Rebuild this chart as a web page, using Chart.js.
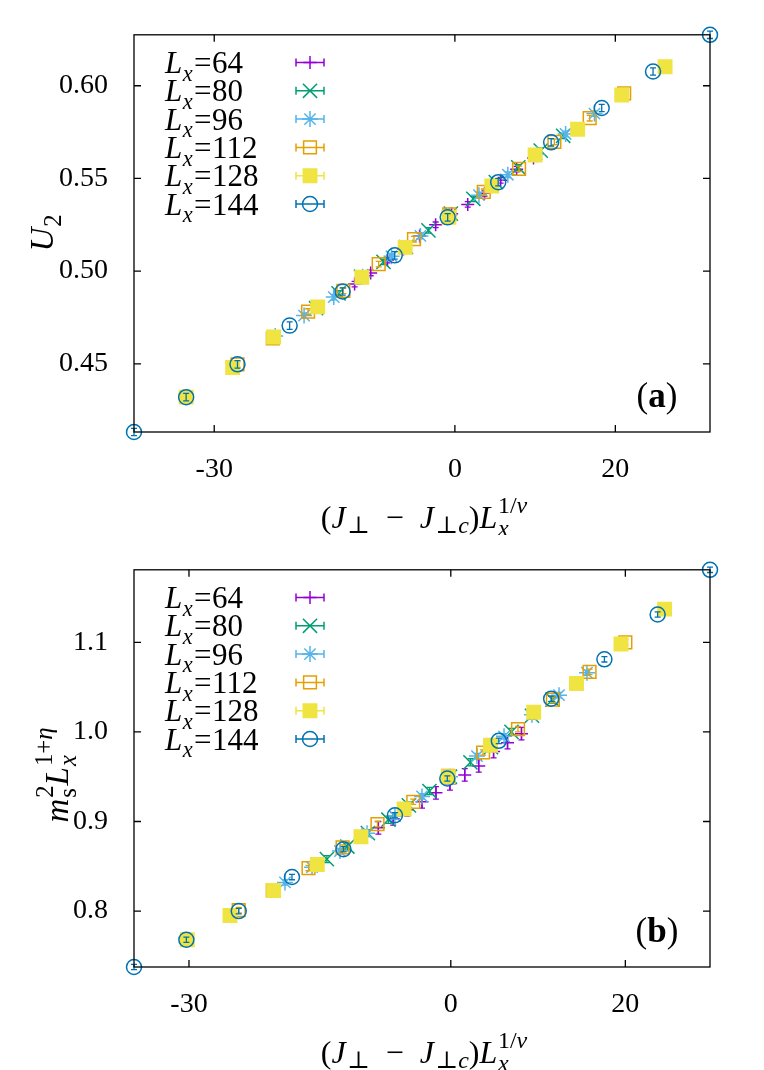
<!DOCTYPE html>
<html>
<head>
<meta charset="utf-8">
<script src="https://cdn.jsdelivr.net/npm/chart.js@4.4.1/dist/chart.umd.min.js"></script>
<style>
  html, body { margin: 0; padding: 0; background: #fff; }
  #wrap { position: relative; width: 764px; height: 1070px; }
  canvas { position: absolute; left: 0; }
</style>
</head>
<body>
<div id="wrap">
  <canvas id="chartU2" width="764" height="535" style="top:0"></canvas>
  <canvas id="chartM2" width="764" height="535" style="top:535px"></canvas>
</div>
<script>
// series (system sizes)
const seriesLabels = ['64', '80', '96', '112', '128', '144'];
const seriesColors = ['#9400d3', '#009e73', '#56b4e9', '#e69f00', '#f0e442', '#0072b2'];
const seriesMarkers = ['cross', 'crossRot', 'star', 'rect', 'rect', 'circle'];
const markerRadius = [6.5, 10, 8, 9, 9.5, 7.5];

// panel (a): U2
const x64U = [-12.5, -10.5, -8.4, -6.4, -4.4, -2.4, -0.4, 1.6, 3.7, 5.7, 7.7, 9.8];
const y64U = [0.493, 0.499, 0.506, 0.512, 0.519, 0.525, 0.531, 0.536, 0.542, 0.549, 0.555, 0.561];
const x80U = [-17.3, -14.5, -11.7, -8.9, -6.1, -3.3, -0.5, 2.3, 5.1, 7.9, 10.7, 13.5];
const y80U = [0.480, 0.488, 0.497, 0.505, 0.513, 0.522, 0.531, 0.539, 0.548, 0.556, 0.565, 0.573];
const x96U = [-22.4, -18.8, -15.1, -11.5, -7.9, -4.3, -0.7, 3.0, 6.6, 10.2, 13.8, 17.4];
const y96U = [0.465, 0.476, 0.486, 0.497, 0.508, 0.519, 0.530, 0.541, 0.552, 0.563, 0.574, 0.585];
const x112U = [-27.1, -22.7, -18.3, -13.9, -9.5, -5.1, -0.7, 3.6, 8.0, 12.4, 16.8, 21.1];
const y112U = [0.4497, 0.4637, 0.4782, 0.4894, 0.5038, 0.5172, 0.5306, 0.5428, 0.5552, 0.5697, 0.5825, 0.5959];
const x128U = [-33.5, -27.7, -22.6, -17.1, -11.6, -6.2, -0.75, 4.6, 10.0, 15.3, 20.8, 26.2];
const y128U = [0.432, 0.448, 0.4645, 0.4807, 0.4967, 0.5128, 0.529, 0.5459, 0.5626, 0.5765, 0.595, 0.6103];
const x144U = [-40.0, -33.5, -27.1, -20.6, -14.0, -7.5, -0.9, 5.4, 12.0, 18.3, 24.7, 31.8];
const y144U = [0.4132, 0.432, 0.4497, 0.4706, 0.489, 0.5085, 0.529, 0.548, 0.5695, 0.588, 0.6077, 0.6275];
const errU = [0.0015, 0.0015, 0.0015, 0.0015, 0.0015, 0.002];

// panel (b): m_s^2 L^(1+eta)
const x64M = [-9.9, -8.3, -6.6, -5.0, -3.3, -1.7, -0.1, 1.6, 3.2, 4.9, 6.5, 8.1];
const y64M = [0.884, 0.893, 0.903, 0.913, 0.922, 0.932, 0.942, 0.952, 0.962, 0.978, 0.988, 0.998];
const x80M = [-14.2, -11.85, -9.5, -7.15, -4.8, -2.45, -0.1, 2.25, 4.6, 6.95, 9.3, 11.65];
const y80M = [0.858, 0.872, 0.887, 0.902, 0.918, 0.934, 0.950, 0.966, 0.983, 1.000, 1.018, 1.036];
const x96M = [-19.0, -15.9, -12.7, -9.6, -6.4, -3.3, -0.1, 3.0, 6.1, 9.3, 12.4, 15.6];
const y96M = [0.832, 0.849, 0.867, 0.887, 0.906, 0.928, 0.950, 0.973, 0.995, 1.019, 1.041, 1.066];
const x112M = [-24.3, -20.4, -16.3, -12.4, -8.4, -4.3, -0.3, 3.7, 7.7, 11.7, 15.9, 20.0];
const y112M = [0.801, 0.823, 0.848, 0.871, 0.897, 0.922, 0.951, 0.977, 1.003, 1.036, 1.067, 1.100];
const x128M = [-30.2, -25.3, -20.3, -15.3, -10.3, -5.35, -0.3, 4.55, 9.5, 14.4, 19.5, 24.5];
const y128M = [0.768, 0.795, 0.823, 0.852, 0.883, 0.914, 0.950, 0.985, 1.022, 1.054, 1.098, 1.137];
const x144M = [-36.3, -30.3, -24.3, -18.2, -12.3, -6.4, -0.4, 5.5, 11.5, 17.6, 23.7, 29.7];
const y144M = [0.7376, 0.768, 0.800, 0.838, 0.869, 0.907, 0.948, 0.990, 1.037, 1.081, 1.131, 1.1809];
const errM = [0.007, 0.004, 0.003, 0.003, 0.003, 0.003];

// axes
const xTicks = [-30, 0, 20];
const xRangeU = [-40.0, 31.8];
const xRangeM = [-36.3, 29.7];
const yTicksU = [0.45, 0.50, 0.55, 0.60];
const yTickLabelsU = ['0.45', '0.50', '0.55', '0.60'];
const yRangeU = [0.4132, 0.6275];
const yTicksM = [0.8, 0.9, 1.0, 1.1];
const yTickLabelsM = ['0.8', '0.9', '1.0', '1.1'];
const yRangeM = [0.7376, 1.1809];

const FONT = '"Liberation Serif", "DejaVu Serif", serif';

// draw a row of text runs (italic, sub/superscripts)
function drawRuns(ctx, runs, x0, y0, size, align) {
  let x = 0, prevStart = 0;
  const items = [];
  runs.forEach(r => {
    const fs = size * (r.s || 1);
    const font = `${r.it ? 'italic ' : ''}${r.b ? 'bold ' : ''}${fs}px ${FONT}`;
    ctx.font = font;
    const w = ctx.measureText(r.t).width;
    const start = r.back ? prevStart : x;
    items.push({ t: r.t, font, x: start + (r.kern || 0) * size, dy: (r.dy || 0) * size });
    x = r.back ? Math.max(x, start + w) : start + w;
    x += (r.pad || 0) * size;
    prevStart = start;
  });
  const off = align === 'center' ? -x / 2 : (align === 'right' ? -x : 0);
  ctx.textAlign = 'left';
  ctx.textBaseline = 'alphabetic';
  items.forEach(it => {
    ctx.font = it.font;
    ctx.fillText(it.t, x0 + off + it.x, y0 - it.dy);
  });
}

const xTitleRuns = [
  { t: '(' }, { t: 'J', it: true, pad: 0.05 }, { t: '⊥', s: 0.75, dy: -0.15 },
  { t: '  −  ' }, { t: 'J', it: true, pad: 0.05 }, { t: '⊥', s: 0.75, dy: -0.15 }, { t: 'c', it: true, s: 0.75, dy: -0.15 },
  { t: ')' }, { t: 'L', it: true, pad: 0.02 }, { t: 'x', it: true, s: 0.75, dy: -0.25 },
  { t: '1/', s: 0.75, dy: 0.48, back: true }, { t: 'ν', it: true, s: 0.75, dy: 0.48 }
];
const yTitleRunsU = [{ t: 'U', it: true, pad: 0.03 }, { t: '2', s: 0.75, dy: -0.25 }];
const yTitleRunsM = [
  { t: 'm', it: true, pad: 0.03 }, { t: 's', s: 0.75, dy: -0.25 }, { t: '2', s: 0.75, dy: 0.45, back: true },
  { t: 'L', it: true, pad: 0.03 }, { t: 'x', it: true, s: 0.75, dy: -0.25 },
  { t: '1+', s: 0.75, dy: 0.48, back: true }, { t: 'η', it: true, s: 0.75, dy: 0.48 }
];

function buildDatasets(xs, ys) {
  return seriesLabels.map((lab, i) => ({
    label: 'Lx=' + lab,
    data: xs[i].map((x, k) => ({ x: x, y: ys[i][k] })),
    pointStyle: seriesMarkers[i],
    pointRadius: markerRadius[i],
    borderColor: seriesColors[i],
    backgroundColor: i === 4 ? seriesColors[i] : 'rgba(0,0,0,0)',
    pointBorderWidth: 1.5,
    showLine: false,
    clip: false,
    order: seriesLabels.length - i
  }));
}

function makePanel(canvasId, xs, ys, errs, xRange, yTicks, yTickLabels, yRange, yTitle, yTitleX, yTitleY, panelTag) {
  const panelPlugin = {
    id: 'panel',
    afterDatasetDraw(chart, args) {
      const ctx = chart.ctx;
      const ys = chart.scales.y;
      const err = errs[args.index];
      ctx.save();
      ctx.strokeStyle = seriesColors[args.index];
      ctx.lineWidth = 1.3;
      args.meta.data.forEach((pt, k) => {
        const v = chart.data.datasets[args.index].data[k].y;
        const y1 = ys.getPixelForValue(v - err);
        const y2 = ys.getPixelForValue(v + err);
        ctx.beginPath();
        ctx.moveTo(pt.x, y1); ctx.lineTo(pt.x, y2);
        ctx.moveTo(pt.x - 3, y1); ctx.lineTo(pt.x + 3, y1);
        ctx.moveTo(pt.x - 3, y2); ctx.lineTo(pt.x + 3, y2);
        ctx.stroke();
      });
      ctx.restore();
    },
    afterDraw(chart) {
      const ctx = chart.ctx;
      const a = chart.chartArea;
      const sx = chart.scales.x, sy = chart.scales.y;
      ctx.save();
      // frame + inward ticks
      ctx.strokeStyle = '#000';
      ctx.lineWidth = 1.3;
      ctx.strokeRect(a.left, a.top, a.right - a.left, a.bottom - a.top);
      ctx.beginPath();
      xTicks.forEach(v => {
        const px = sx.getPixelForValue(v);
        ctx.moveTo(px, a.bottom); ctx.lineTo(px, a.bottom - 7);
        ctx.moveTo(px, a.top); ctx.lineTo(px, a.top + 7);
      });
      yTicks.forEach(v => {
        const py = sy.getPixelForValue(v);
        ctx.moveTo(a.left, py); ctx.lineTo(a.left + 7, py);
        ctx.moveTo(a.right, py); ctx.lineTo(a.right - 7, py);
      });
      ctx.stroke();

      // legend
      seriesLabels.forEach((lab, i) => {
        const cy = 62.5 + i * 28.3;
        ctx.fillStyle = '#000';
        drawRuns(ctx, [{ t: 'L', it: true, pad: 0.02 }, { t: 'x', it: true, s: 0.72, dy: -0.25, pad: 0.04 }, { t: '=', pad: 0.02 }, { t: lab }], 165, cy + 10.5, 31, 'left');
        ctx.strokeStyle = seriesColors[i];
        ctx.lineWidth = 1.5;
        ctx.beginPath();
        ctx.moveTo(296, cy); ctx.lineTo(324, cy);
        ctx.moveTo(296, cy - 4); ctx.lineTo(296, cy + 4);
        ctx.moveTo(324, cy - 4); ctx.lineTo(324, cy + 4);
        ctx.stroke();
        ctx.fillStyle = i === 4 ? seriesColors[i] : 'rgba(0,0,0,0)';
        Chart.helpers.drawPoint(ctx, { pointStyle: seriesMarkers[i], radius: markerRadius[i], borderWidth: 1.5, rotation: 0 }, 310, cy);
      });

      // titles
      ctx.fillStyle = '#000';
      drawRuns(ctx, xTitleRuns, 424, 528, 32, 'center');
      ctx.save();
      ctx.translate(yTitleX, yTitleY);
      ctx.rotate(-Math.PI / 2);
      drawRuns(ctx, yTitle, 0, 0, 33, 'center');
      ctx.restore();
      drawRuns(ctx, [{ t: '(' }, { t: panelTag, b: true }, { t: ')' }], 657, 407, 35, 'center');
      ctx.restore();
    }
  };

  return new Chart(document.getElementById(canvasId), {
    type: 'scatter',
    data: { datasets: buildDatasets(xs, ys) },
    options: {
      responsive: false,
      animation: false,
      events: [],
      devicePixelRatio: 1,
      layout: { padding: { top: 32, right: 54, left: 0, bottom: 0 } },
      plugins: { legend: { display: false }, tooltip: { enabled: false } },
      scales: {
        x: {
          type: 'linear',
          min: xRange[0],
          max: xRange[1],
          grid: { display: false },
          border: { display: false },
          afterBuildTicks: s => { s.ticks = xTicks.map(v => ({ value: v })); },
          afterFit: s => { s.height = 103; },
          ticks: {
            padding: 13,
            maxRotation: 0,
            color: '#000',
            font: { family: FONT, size: 28 },
            callback: v => String(v)
          }
        },
        y: {
          type: 'linear',
          min: yRange[0],
          max: yRange[1],
          grid: { display: false },
          border: { display: false },
          afterBuildTicks: s => { s.ticks = yTicks.map(v => ({ value: v })); },
          afterFit: s => { s.width = 134; },
          ticks: {
            padding: 18,
            color: '#000',
            font: { family: FONT, size: 28 },
            callback: (v, idx) => yTickLabels[idx]
          }
        }
      }
    },
    plugins: [panelPlugin]
  });
}

makePanel('chartU2',
  [x64U, x80U, x96U, x112U, x128U, x144U],
  [y64U, y80U, y96U, y112U, y128U, y144U],
  errU, xRangeU, yTicksU, yTickLabelsU, yRangeU, yTitleRunsU, 53, 233, 'a');

makePanel('chartM2',
  [x64M, x80M, x96M, x112M, x128M, x144M],
  [y64M, y80M, y96M, y112M, y128M, y144M],
  errM, xRangeM, yTicksM, yTickLabelsM, yRangeM, yTitleRunsM, 68, 240, 'b');
</script>
</body>
</html>
